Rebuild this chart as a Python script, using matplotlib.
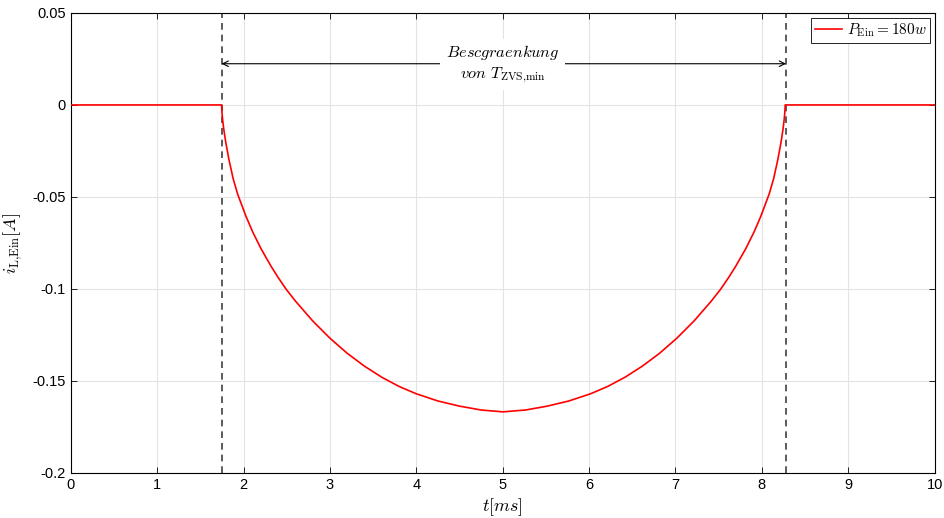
import matplotlib
matplotlib.use('Agg')
import matplotlib.pyplot as plt

plt.rcParams['font.family'] = ['Liberation Sans', 'DejaVu Sans']
plt.rcParams['mathtext.fontset'] = 'cm'

# Werte: t in ms, i in A
t_ms = [0, 1.745, 1.747, 1.750, 1.757, 1.769, 1.792, 1.830, 1.880, 1.931, 2.027,
        2.105, 2.2, 2.318, 2.4, 2.49, 2.6, 2.8, 3.0, 3.2, 3.4, 3.6, 3.8, 4.0, 4.25,
        4.5, 4.75, 5.0,
        5.265, 5.515, 5.765, 6.015, 6.215, 6.415, 6.615, 6.815, 7.015, 7.215,
        7.415, 7.525, 7.615, 7.697, 7.815, 7.91, 7.988, 8.084, 8.135, 8.185,
        8.223, 8.246, 8.258, 8.265, 8.268, 8.27, 10]
i_L = [0, 0, -0.0024, -0.0045, -0.0081, -0.0128, -0.020, -0.0297, -0.0403, -0.0485,
       -0.0605, -0.069, -0.078, -0.0877, -0.0938, -0.1, -0.1066, -0.1174, -0.1268,
       -0.135, -0.142, -0.148, -0.153, -0.157, -0.1609, -0.1637, -0.1658, -0.1668,
       -0.1658, -0.1637, -0.1609, -0.157, -0.153, -0.148, -0.142, -0.135, -0.1268,
       -0.1174, -0.1066, -0.1, -0.0938, -0.0877, -0.078, -0.069, -0.0605, -0.0485,
       -0.0403, -0.0297, -0.020, -0.0128, -0.0081, -0.0045, -0.0024, 0, 0]

t_grenzen = [1.745, 8.28]
y_pfeil = 0.0224

x_ticks = [0, 1, 2, 3, 4, 5, 6, 7, 8, 9, 10]
y_ticks = [0.05, 0, -0.05, -0.1, -0.15, -0.2]
y_tick_labels = ['0.05', '0', '-0.05', '-0.1', '-0.15', '-0.2']

fig = plt.figure(figsize=(9.45, 5.18), dpi=100)
ax = fig.add_axes([0.075, 0.087, 0.914, 0.888])

ax.plot(t_ms, i_L, color='#ff0000', lw=1.2, label=r'$P_{\mathrm{Ein}} = 180w$', zorder=3)

for tg in t_grenzen:
    ax.axvline(tg, color='#404040', ls=(0, (4, 3)), lw=1.2, zorder=2)

ax.annotate('', xy=(t_grenzen[0], y_pfeil), xytext=(t_grenzen[1], y_pfeil),
            arrowprops=dict(arrowstyle='<->', color='black', lw=0.8,
                            shrinkA=0, shrinkB=0, mutation_scale=10))
ax.text(5.0, y_pfeil, '$Bescgraenkung$\n$von\\ T_{\\mathrm{ZVS{,}min}}$',
        ha='center', va='center', fontsize=11.8, linespacing=1.3,
        bbox=dict(facecolor='white', edgecolor='none', pad=4), zorder=4)

ax.set_xlim(0, 10)
ax.set_ylim(-0.2, 0.05)
ax.set_xticks(x_ticks)
ax.set_yticks(y_ticks)
ax.set_yticklabels(y_tick_labels)
ax.tick_params(direction='in', top=True, right=True, labelsize=10.5, length=4, width=0.6)
ax.grid(True, color='#e3e3e3', lw=0.8)
ax.set_axisbelow(True)
for s in ax.spines.values():
    s.set_linewidth(0.8)

ax.set_xlabel(r'$t[ms]$', fontsize=13, labelpad=3)
ax.set_ylabel(r'$i_{\mathrm{L{,}Ein}}[A]$', fontsize=13, labelpad=6)

leg = ax.legend(loc='upper right', fontsize=11, fancybox=False, framealpha=1,
                edgecolor='black', handlelength=1.8, borderpad=0.25,
                handletextpad=0.3, borderaxespad=0.3)
leg.get_frame().set_linewidth(0.6)

fig.savefig('out.png', dpi=100)
